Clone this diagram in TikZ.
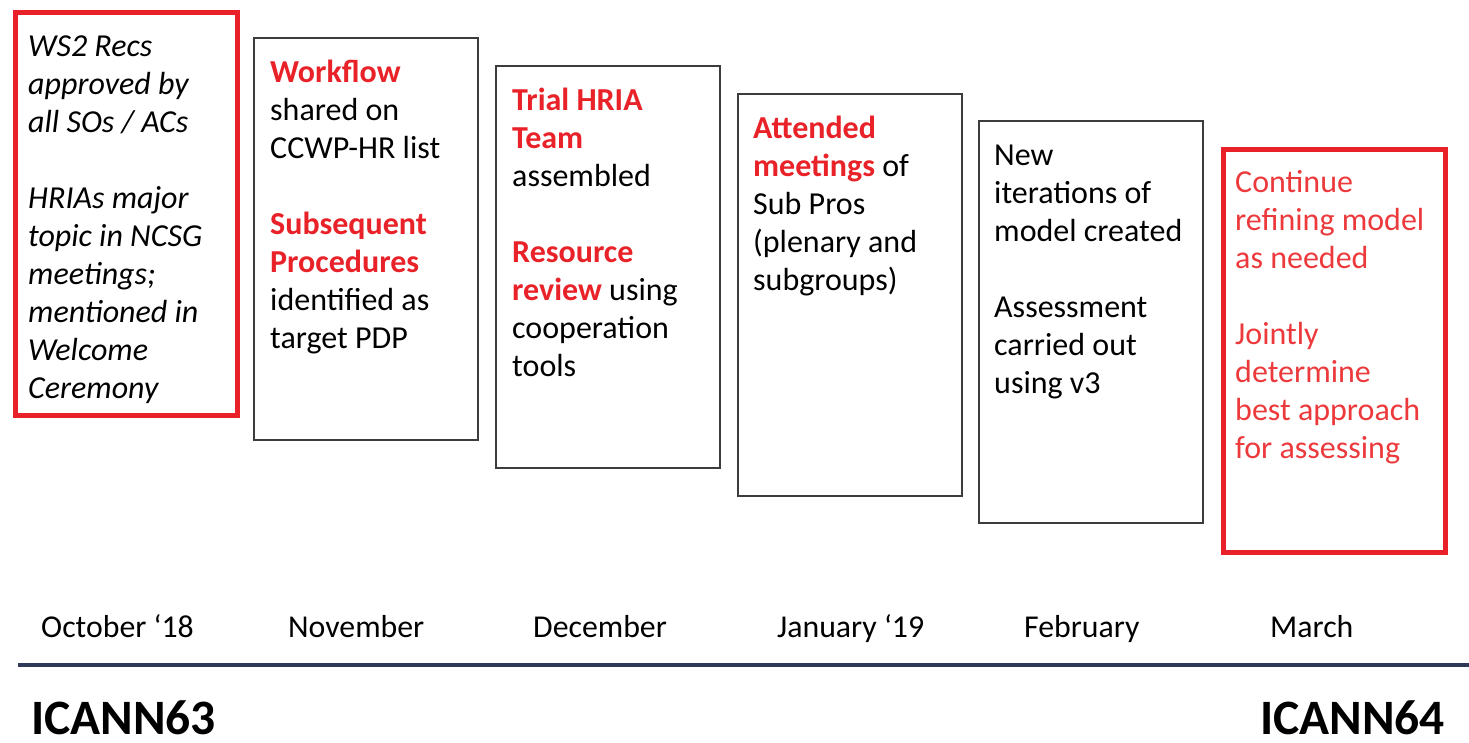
\documentclass[tikz,border=0pt]{standalone}
\usepackage{fontspec}
\setmainfont{Carlito}
\definecolor{hred}{RGB}{232,34,40}
\definecolor{hred2}{RGB}{236,58,60}
\definecolor{boxgray}{RGB}{60,60,60}
\definecolor{navy}{RGB}{48,58,88}
\tikzset{
  blackbox/.style={draw=boxgray, line width=2pt, minimum width=224pt, minimum height=402pt, inner sep=0pt, anchor=north west},
  redbox/.style={draw=hred, line width=5pt, minimum width=222pt, minimum height=403pt, inner sep=0pt, anchor=north west},
  boxtext/.style={anchor=north west, inner sep=0pt, align=left, font=\fontsize{32}{38}\selectfont},
  month/.style={anchor=base west, inner sep=0pt, font=\fontsize{31.8}{36}\selectfont},
  meeting/.style={anchor=base west, inner sep=0pt, font=\fontsize{49.5}{56}\selectfont\bfseries}
}
\newcommand{\rb}[1]{\textcolor{hred}{\textbf{#1}}}
\begin{document}
\begin{tikzpicture}[x=1pt,y=-1pt]
\useasboundingbox (0,0) rectangle (1469,742);
% boxes
\node[redbox] (b1) at (12.5,9.5) {};
\node[blackbox] (b2) at (253,37) {};
\node[blackbox] (b3) at (495,65) {};
\node[blackbox] (b4) at (737,93) {};
\node[blackbox] (b5) at (978,120) {};
\node[redbox] (b6) at (1220.5,146.5) {};
% texts
\node[boxtext, font=\fontsize{32}{38}\selectfont\itshape] (t1) at (28,30) {\strut WS2 Recs\\ approved by\\ all SOs / ACs\\[38pt] HRIAs major\\ topic in NCSG\\ meetings;\\ mentioned in\\ Welcome\\ Ceremony};
\node[boxtext] (t2) at (270,56) {\strut\rb{Workflow}\\ shared on\\ CCWP-HR list\\[38pt] \rb{Subsequent}\\ \rb{Procedures}\\ identified as\\ target PDP};
\node[boxtext] (t3) at (512,84) {\strut\rb{Trial HRIA}\\ \rb{Team}\\ assembled\\[38pt] \rb{Resource}\\ \rb{review} using\\ cooperation\\ tools};
\node[boxtext] (t4) at (753,112) {\strut\rb{Attended}\\ \rb{meetings} of\\ Sub Pros\\ (plenary and\\ subgroups)};
\node[boxtext] (t5) at (994,139) {\strut New\\ iterations of\\ model created\\[38pt] Assessment\\ carried out\\ using v3};
\node[boxtext, text=hred2] (t6) at (1235,166) {\strut Continue\\ refining model\\ as needed\\[38pt] Jointly\\ determine\\ best approach\\ for assessing};
% months
\node[month] (m1) at (41,637) {October ‘18};
\node[month] (m2) at (288,637) {November};
\node[month] (m3) at (533,637) {December};
\node[month] (m4) at (777,637) {January ‘19};
\node[month] (m5) at (1024,637) {February};
\node[month] (m6) at (1270,637) {March};
% timeline
\coordinate (l0) at (18,665);
\coordinate (l1) at (1469,665);
\draw[navy, line width=4pt] (l0) -- (l1);
% meetings
\node[meeting] (i63) at (31,734) {ICANN63};
\node[meeting, anchor=base east] (i64) at (1445,734) {ICANN64};
\end{tikzpicture}
\end{document}
